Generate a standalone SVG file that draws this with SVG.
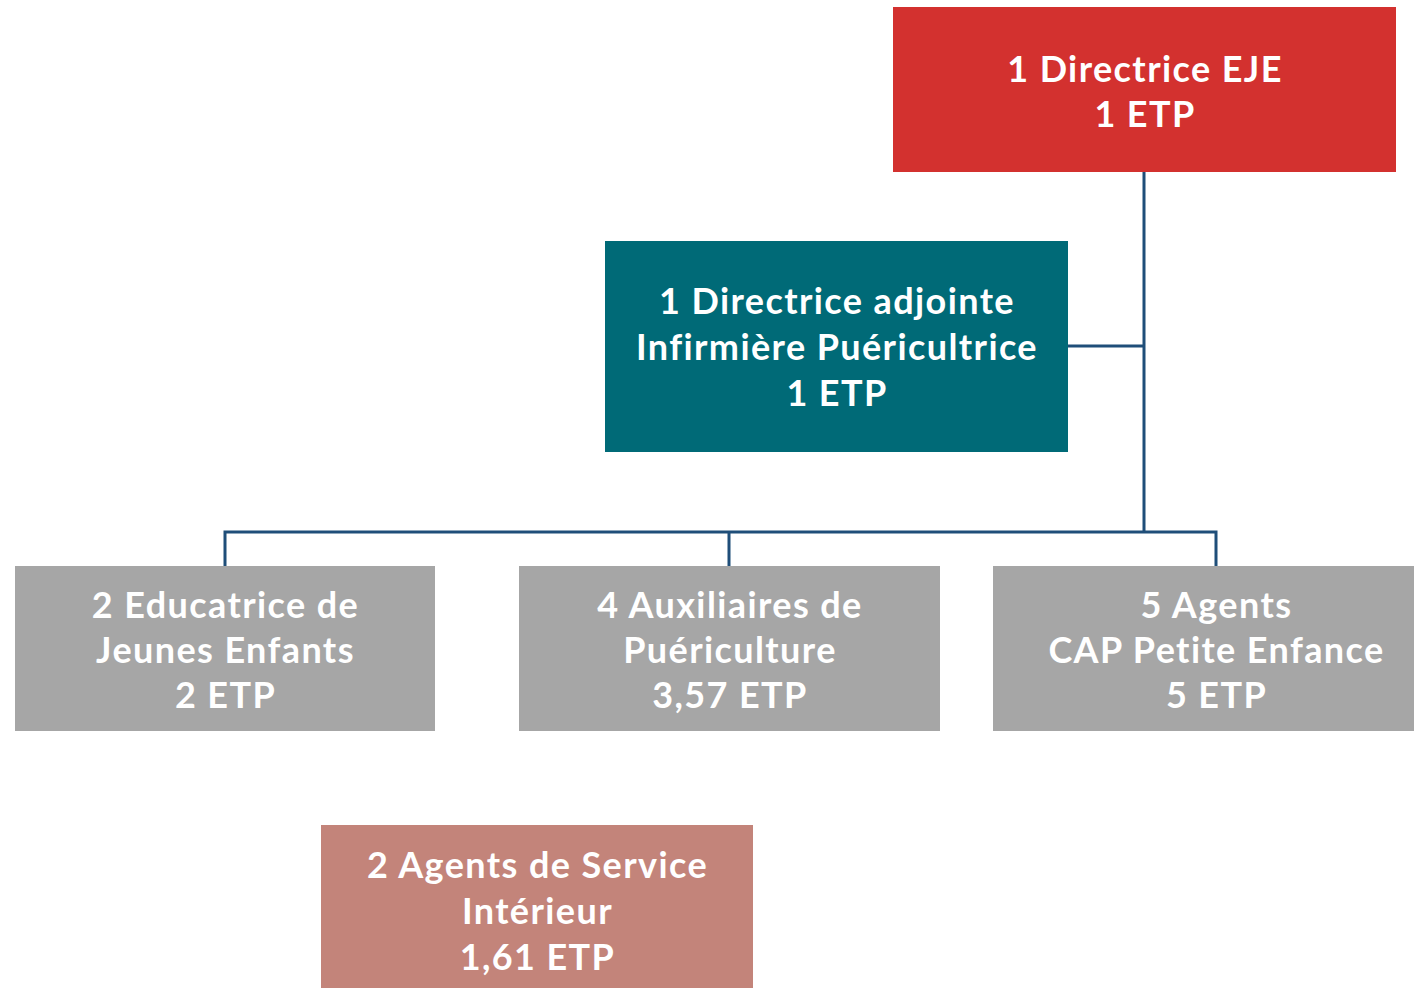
<svg xmlns="http://www.w3.org/2000/svg" width="1414" height="988" viewBox="0 0 1414 988">
<style>
text{font-family:"Lato","Open Sans","Liberation Sans",sans-serif;font-weight:bold;font-size:36px;letter-spacing:1.4px;fill:#ffffff;text-anchor:middle}
.c{stroke:#1F4E79;stroke-width:3;fill:none}
</style>
<rect width="1414" height="988" fill="#ffffff"/>
<g id="connectors">
<path class="c" d="M1144 172V532M1068 346H1144M225 566V532H1216V566M729 532V566"/>
</g>
<g id="n1"><rect x="893" y="7" width="503" height="165" fill="#D3312F"/>
<text x="1145" y="82">1 Directrice EJE</text><text x="1145" y="127">1 ETP</text></g>
<g id="n2"><rect x="605" y="241" width="463" height="211" fill="#006A77"/>
<text x="837" y="314">1 Directrice adjointe</text><text x="837" y="360">Infirmière Puéricultrice</text><text x="837" y="406">1 ETP</text></g>
<g id="n3"><rect x="15" y="566" width="420" height="165" fill="#A6A6A6"/>
<text x="225.5" y="618">2 Educatrice de</text><text x="225.5" y="663">Jeunes Enfants</text><text x="225.5" y="708">2 ETP</text></g>
<g id="n4"><rect x="519" y="566" width="421" height="165" fill="#A6A6A6"/>
<text x="730" y="618">4 Auxiliaires de</text><text x="730" y="663">Puériculture</text><text x="730" y="708">3,57 ETP</text></g>
<g id="n5"><rect x="993" y="566" width="421" height="165" fill="#A6A6A6"/>
<text x="1216.5" y="618">5 Agents</text><text x="1216.5" y="663">CAP Petite Enfance</text><text x="1216.5" y="708">5 ETP</text></g>
<g id="n6"><rect x="321" y="825" width="432" height="163" fill="#C3847A"/>
<text x="537.5" y="878">2 Agents de Service</text><text x="537.5" y="924">Intérieur</text><text x="537.5" y="970">1,61 ETP</text></g>
</svg>
